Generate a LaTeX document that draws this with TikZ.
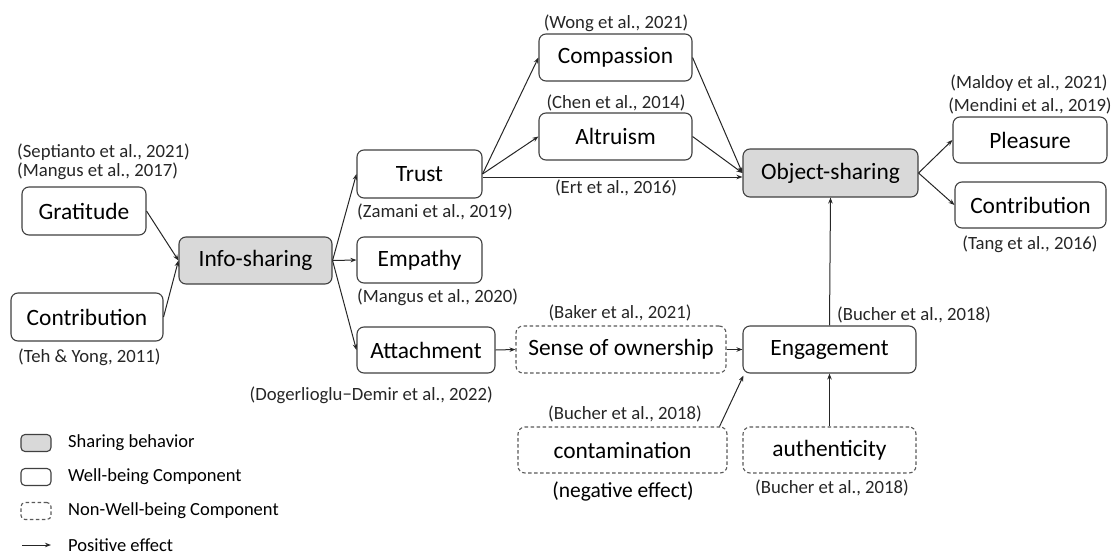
\documentclass[tikz,border=0pt]{standalone}
\usepackage{fontspec}
\setmainfont{Carlito}
\usetikzlibrary{arrows.meta}
\begin{document}
\begin{tikzpicture}[x=1pt,y=-1pt,
  box/.style={draw=black!75, line width=1.1pt, rounded corners=7pt, inner sep=0pt,
    font=\fontsize{23.4}{27}\selectfont},
  sharebox/.style={box, fill=black!15},
  wellbox/.style={box, fill=white},
  nonbox/.style={box, draw=black!65, dash pattern=on 3.5pt off 2.5pt},
  cite/.style={inner sep=0pt, font=\fontsize{18.7}{21}\selectfont, text=black!85},
  legtext/.style={inner sep=0pt, anchor=west, font=\fontsize{18.5}{21}\selectfont},
  effect/.style={draw=black!85, line width=1pt, -{Stealth[length=6pt,width=4.5pt]}}
]
\useasboundingbox (0,0) rectangle (1116,554);

% ---- boxes ----
\node[wellbox, minimum width=124pt, minimum height=48pt] (grat) at (84,211) {Gratitude};
\node[wellbox, minimum width=152pt, minimum height=48pt] (contrL) at (87,317) {Contribution};
\node[sharebox, minimum width=153pt, minimum height=47pt] (info) at (255.5,260.5) {Info-sharing};
\node[wellbox, minimum width=125pt, minimum height=48pt] (trust) at (419.5,174) {Trust};
\node[wellbox, minimum width=125pt, minimum height=46pt] (empathy) at (419.5,260) {Empathy};
\node[wellbox, minimum width=138pt, minimum height=46pt] (attach) at (426,350) {Attachment};
\node[wellbox, minimum width=153pt, minimum height=47pt] (comp) at (615.5,57.5) {Compassion};
\node[wellbox, minimum width=153pt, minimum height=47pt] (altru) at (615.5,136.5) {Altruism};
\node[sharebox, minimum width=175pt, minimum height=48pt] (objs) at (830.5,173) {Object-sharing};
\node[wellbox, minimum width=154pt, minimum height=46pt] (pleas) at (1030,140) {Pleasure};
\node[wellbox, minimum width=151pt, minimum height=46pt] (contrR) at (1030.5,205) {Contribution};
\node[nonbox, minimum width=210pt, minimum height=47pt] (sense) at (621,349.5) {Sense of ownership};
\node[wellbox, minimum width=173pt, minimum height=47pt] (engage) at (829.5,349.5) {Engagement};
\node[nonbox, minimum width=209pt, minimum height=46pt] (contam) at (622.5,450) {contamination};
\node[nonbox, minimum width=173pt, minimum height=46pt] (auth) at (829.5,450) {authenticity};

% ---- citations ----
\node[cite, anchor=west] (cSept) at (17,152) {(Septianto et al., 2021)};
\node[cite, anchor=west] (cMang17) at (17,171) {(Mangus et al., 2017)};
\node[cite, anchor=west] (cTeh) at (18,357) {(Teh \& Yong, 2011)};
\node[cite, anchor=west] (cZam) at (357,212) {(Zamani et al., 2019)};
\node[cite, anchor=west] (cMang20) at (357,297) {(Mangus et al., 2020)};
\node[cite, anchor=east] (cDog) at (493,395) {(Dogerlioglu−Demir et al., 2022)};
\node[cite] (cWong) at (616,23) {(Wong et al., 2021)};
\node[cite] (cChen) at (616,103) {(Chen et al., 2014)};
\node[cite] (cErt) at (616,188) {(Ert et al., 2016)};
\node[cite] (cMald) at (1029,83) {(Maldoy et al., 2021)};
\node[cite] (cMend) at (1030,106) {(Mendini et al., 2019)};
\node[cite] (cTang) at (1030,244) {(Tang et al., 2016)};
\node[cite] (cBaker) at (620,313) {(Baker et al., 2021)};
\node[cite] (cBuchA) at (914,315) {(Bucher et al., 2018)};
\node[cite] (cBuchB) at (625,414) {(Bucher et al., 2018)};
\node[cite] (cBuchC) at (832,488) {(Bucher et al., 2018)};
\node[inner sep=0pt, font=\fontsize{21.5}{25}\selectfont] (neg) at (623,491) {(negative effect)};

% ---- connectors ----
\draw[effect] (grat.east) -- (info.west);
\draw[effect] (contrL.east) -- (info.west);
\draw[effect] (info.east) -- (trust.west);
\draw[effect] (info.east) -- (empathy.west);
\draw[effect] (info.east) -- (attach.west);
\draw[effect] (trust.east) -- (comp.west);
\draw[effect] (trust.east) -- (altru.west);
\draw[effect] ([yshift=-3pt]trust.east) -- ([yshift=-4pt]objs.west);
\draw[effect] (comp.east) -- (objs.west);
\draw[effect] (altru.east) -- (objs.west);
\draw[effect] (objs.east) -- (pleas.west);
\draw[effect] (objs.east) -- (contrR.west);
\draw[effect] (attach.east) -- (sense.west);
\draw[effect] (sense.east) -- (engage.west);
\draw[effect] ([xshift=-8pt]contam.north east) -- ([xshift=1pt,yshift=-2pt]engage.south west);
\draw[effect] (auth.north) -- (engage.south);
\draw[effect] (engage.north) -- (objs.south);

% ---- legend ----
\node[sharebox, minimum width=30pt, minimum height=17pt, rounded corners=4pt] (lgShare) at (36,443) {};
\node[wellbox, minimum width=30pt, minimum height=17pt, rounded corners=4pt] (lgWell) at (36,477) {};
\node[nonbox, minimum width=30pt, minimum height=17pt, rounded corners=4pt] (lgNon) at (36,511) {};
\coordinate (lgA) at (22,545);
\coordinate (lgB) at (51,545);
\draw[effect] (lgA) -- (lgB);
\node[legtext] (ltShare) at (68,443) {Sharing behavior};
\node[legtext] (ltWell) at (68,477) {Well-being Component};
\node[legtext] (ltNon) at (68,511) {Non-Well-being Component};
\node[legtext] (ltPos) at (68,545) {Positive effect};
\end{tikzpicture}
\end{document}
